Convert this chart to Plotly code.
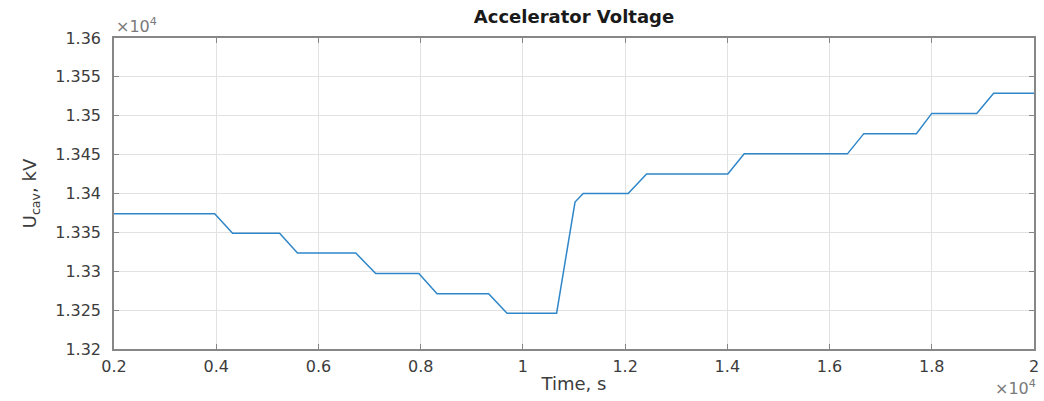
import plotly.graph_objects as go

# Breakpoints of the accelerator voltage record (time in s, voltage in kV)
time_s = [2000, 3970, 4320, 5240, 5590, 6730, 7120, 7965, 8320, 9330, 9690,
          10660, 11020, 11180, 12060, 12420, 14010, 14330, 16350, 16670,
          17700, 18000, 18880, 19210, 20000]
u_cav_kv = [13374, 13374, 13349, 13349, 13323.5, 13323.5, 13297, 13297, 13271,
            13271, 13246, 13246, 13389, 13400, 13400, 13425, 13425, 13451,
            13451, 13477, 13477, 13503, 13503, 13529, 13529]

x_ticks = [2000, 4000, 6000, 8000, 10000, 12000, 14000, 16000, 18000, 20000]
x_tick_text = ["0.2", "0.4", "0.6", "0.8", "1", "1.2", "1.4", "1.6", "1.8", "2"]
y_ticks = [13200, 13250, 13300, 13350, 13400, 13450, 13500, 13550, 13600]
y_tick_text = ["1.32", "1.325", "1.33", "1.335", "1.34", "1.345", "1.35", "1.355", "1.36"]

font_family = "DejaVu Sans, Liberation Sans, sans-serif"
axis_color = "#878787"
grid_color = "#e2e2e2"
label_color = "#3c3c3c"

fig = go.Figure()
fig.add_trace(go.Scatter(
    x=time_s, y=u_cav_kv, mode="lines",
    line=dict(color="#2f86c8", width=1.5),
    showlegend=False,
))

axis_common = dict(
    showline=True, linecolor=axis_color, linewidth=1.5, mirror="allticks",
    ticks="inside", ticklen=5, tickcolor=axis_color, tickwidth=1.2,
    showgrid=True, gridcolor=grid_color, gridwidth=1,
    zeroline=False,
    tickfont=dict(family=font_family, size=16, color=label_color),
)

fig.update_xaxes(
    range=[2000, 20000], tickvals=x_ticks, ticktext=x_tick_text,
    ticklabelstandoff=2,
    title=dict(text="Time, s", font=dict(family=font_family, size=18, color=label_color), standoff=2),
    **axis_common,
)
fig.update_yaxes(
    range=[13200, 13600], tickvals=y_ticks, ticktext=y_tick_text,
    ticklabelstandoff=8,
    title=dict(text="U<sub>cav</sub>, kV", font=dict(family=font_family, size=18, color=label_color), standoff=14),
    **axis_common,
)

fig.update_layout(
    width=1044, height=401,
    margin=dict(l=114, r=5, t=38, b=52),
    paper_bgcolor="white", plot_bgcolor="white",
    title=dict(text="<b>Accelerator Voltage</b>", x=0.5, xanchor="center",
               y=1 - 17 / 401, yanchor="middle", xref="paper",
               font=dict(family=font_family, size=18, color="#1a1a1a")),
    annotations=[
        dict(text="×10<sup>4</sup>", xref="paper", yref="paper", x=0.0, y=1.0,
             xanchor="left", yanchor="bottom", showarrow=False, yshift=0,
             font=dict(family=font_family, size=16, color="#7a7a7a")),
        dict(text="×10<sup>4</sup>", xref="paper", yref="paper", x=1.0, y=0.0,
             xanchor="right", yanchor="top", showarrow=False, yshift=-26, xshift=4,
             font=dict(family=font_family, size=16, color="#7a7a7a")),
    ],
)

fig.write_html("out.html")
